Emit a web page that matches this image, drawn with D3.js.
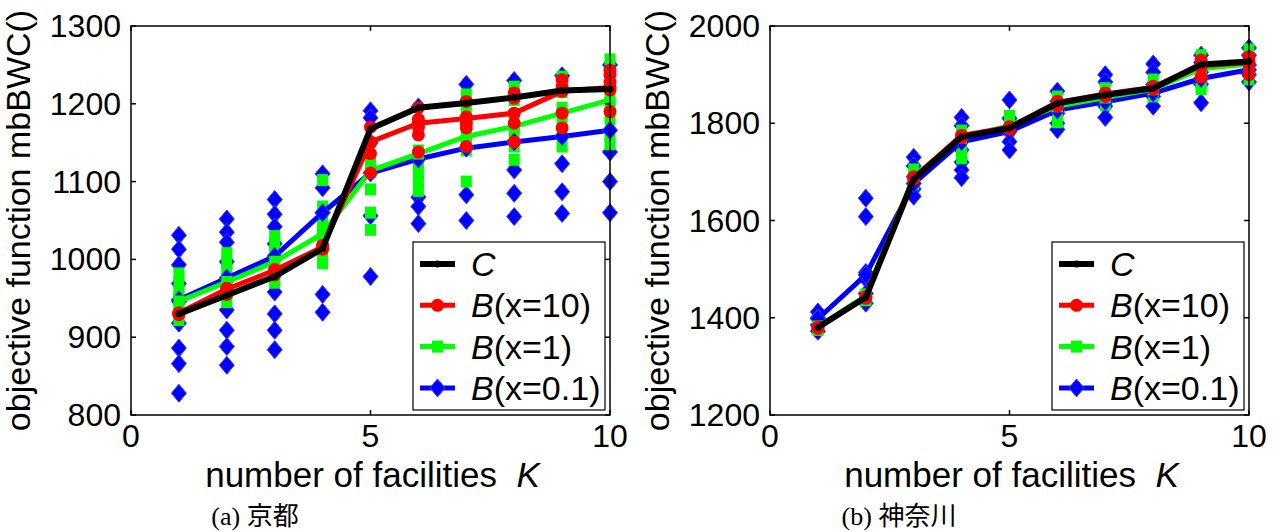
<!DOCTYPE html>
<html>
<head>
<meta charset="utf-8">
<script src="https://cdn.jsdelivr.net/npm/d3@7"></script>
<style>
  body { margin: 0; background: #fff; }
  svg text { font-family: "Liberation Sans", Arial, sans-serif; }
</style>
</head>
<body>
<div class="holder"></div>
<script>
// number of facilities K
var kValues = [1, 2, 3, 4, 5, 6, 7, 8, 9, 10];
var xTicks = [0, 5, 10];

// (a) Kyoto: mean lines
var kyotoC   = [930, 954, 978, 1014, 1168, 1195, 1201, 1208, 1217, 1219];
var kyotoB10 = [931, 962, 986, 1016, 1151, 1175, 1181, 1188, 1216, 1221];
var kyotoB1  = [946, 971, 997, 1033, 1114, 1136, 1158, 1171, 1188, 1205];
var kyotoB01 = [948, 976, 1004, 1060, 1111, 1129, 1143, 1151, 1158, 1166];
// (a) Kyoto: individual runs
var kyotoB10Runs = [
  [930, 931, 929], [955, 963, 960], [980, 987, 984], [1013, 1016, 1018],
  [1170, 1150, 1136, 1111], [1195, 1180, 1170, 1160, 1138],
  [1203, 1183, 1175, 1169, 1145], [1214, 1207, 1175, 1151],
  [1231, 1222, 1188, 1169], [1243, 1237, 1228, 1218, 1190]
];
var kyotoB1Runs = [
  [982, 970, 958, 950, 940, 930, 922], [1008, 995, 985, 975, 965, 955, 945],
  [1030, 1020, 1010, 1000, 990, 980, 970], [1102, 1068, 1051, 1040, 1025, 1010, 995],
  [1128, 1115, 1090, 1060, 1038], [1140, 1125, 1112, 1100, 1088],
  [1212, 1195, 1175, 1158, 1140, 1100], [1222, 1205, 1185, 1165, 1145, 1128],
  [1235, 1215, 1195, 1175, 1160, 1145], [1257, 1240, 1220, 1200, 1180, 1160, 1148]
];
var kyotoB01Runs = [
  [1031, 1013, 993, 969, 946, 918, 886, 866, 828],
  [1052, 1035, 1022, 997, 973, 935, 909, 888, 864],
  [1077, 1058, 1042, 1020, 958, 930, 909, 884],
  [1110, 1092, 1060, 955, 932], [1191, 1182, 1150, 1056, 978],
  [1196, 1080, 1068, 1046], [1225, 1083, 1050], [1230, 1115, 1085, 1055],
  [1236, 1123, 1087, 1059], [1250, 1138, 1100, 1060]
];
var kyotoYTicks = [800, 900, 1000, 1100, 1200, 1300];

// (b) Kanagawa: mean lines
var kanaC   = [1380, 1442, 1685, 1772, 1790, 1841, 1858, 1872, 1921, 1927];
var kanaB10 = [1381, 1443, 1688, 1775, 1792, 1843, 1860, 1874, 1918, 1925];
var kanaB1  = [1382, 1445, 1690, 1770, 1795, 1835, 1853, 1870, 1912, 1922];
var kanaB01 = [1398, 1488, 1676, 1762, 1783, 1827, 1844, 1862, 1892, 1910];
// (b) Kanagawa: individual runs
var kanaB10Runs = [
  [1380, 1378], [1443, 1440], [1690, 1685], [1775, 1770], [1793, 1788],
  [1845, 1835], [1862, 1855], [1876, 1870], [1930, 1915, 1895], [1937, 1920, 1900]
];
var kanaB1Runs = [
  [1382, 1378, 1375], [1448, 1440, 1436], [1705, 1690, 1675], [1785, 1765, 1740, 1728],
  [1815, 1800, 1785], [1855, 1835, 1815, 1802], [1872, 1855, 1838], [1890, 1870, 1855],
  [1940, 1920, 1900, 1880, 1870], [1952, 1930, 1910, 1890]
];
var kanaB01Runs = [
  [1412, 1400, 1385, 1372], [1646, 1608, 1493, 1480, 1450, 1430],
  [1730, 1712, 1690, 1665, 1650], [1812, 1795, 1745, 1720, 1704, 1688],
  [1848, 1810, 1790, 1762, 1745], [1866, 1845, 1820, 1800, 1787],
  [1900, 1885, 1860, 1835, 1812], [1922, 1905, 1880, 1855, 1835],
  [1940, 1925, 1905, 1880, 1842], [1955, 1940, 1920, 1900, 1885]
];
var kanaYTicks = [1200, 1400, 1600, 1800, 2000];

var legendNames = ["C", "B", "B", "B"];
var legendArgs = ["", "(x=10)", "(x=1)", "(x=0.1)"];

var svg = d3.select(".holder").append("svg")
  .attr("width", 1277).attr("height", 532);
svg.append("rect").attr("width", 1277).attr("height", 532).attr("fill", "#fff");

// marker drawing
function drawMarker(g, kind, x, y) {
  if (kind === "diamond") {
    g.append("path")
      .attr("d", "M" + x + "," + (y - 9) + "L" + (x + 7.5) + "," + y + "L" + x + "," + (y + 9) + "L" + (x - 7.5) + "," + y + "Z")
      .attr("fill", "#0000ff").attr("stroke", "#3a3aff").attr("stroke-width", 1);
  } else if (kind === "square") {
    g.append("rect").attr("x", x - 5.5).attr("y", y - 6).attr("width", 11).attr("height", 12)
      .attr("fill", "#00ff00");
  } else if (kind === "circle") {
    g.append("circle").attr("cx", x).attr("cy", y).attr("r", 6.5).attr("fill", "#ff0000");
  } else {
    g.append("circle").attr("cx", x).attr("cy", y).attr("r", 3.5).attr("fill", "#000");
  }
}

function drawPanel(p) {
  var x = d3.scaleLinear().domain([0, 10]).range([p.left, p.right]);
  var y = d3.scaleLinear().domain(p.yDomain).range([p.bottom, p.top]);
  var g = svg.append("g");

  var line = d3.line().x(function(d, i) { return x(kValues[i]); }).y(function(d) { return y(d); });

  function runs(data, kind) {
    data.forEach(function(vals, i) {
      vals.forEach(function(v) { drawMarker(g, kind, x(kValues[i]), y(v)); });
    });
  }
  function meanLine(data, color, kind, w) {
    g.append("path").datum(data).attr("d", line)
      .attr("fill", "none").attr("stroke", color).attr("stroke-width", w)
      .attr("stroke-linejoin", "round");
    data.forEach(function(v, i) { drawMarker(g, kind, x(kValues[i]), y(v)); });
  }

  runs(p.b01Runs, "diamond");
  runs(p.b1Runs, "square");
  meanLine(p.b01, "#0000ff", "diamond", 5);
  meanLine(p.b1, "#00ff00", "square", 5);
  runs(p.b10Runs, "circle");
  meanLine(p.b10, "#ff0000", "circle", 5);
  meanLine(p.c, "#000000", "dot", 6);

  // box
  var axes = svg.append("g").attr("stroke", "#000").attr("stroke-width", 1.5).attr("fill", "none");
  axes.append("rect").attr("x", p.left).attr("y", p.top)
    .attr("width", p.right - p.left).attr("height", p.bottom - p.top);

  // ticks (inward, on all four sides)
  xTicks.forEach(function(t) {
    axes.append("line").attr("x1", x(t)).attr("x2", x(t)).attr("y1", p.bottom).attr("y2", p.bottom - 5);
    axes.append("line").attr("x1", x(t)).attr("x2", x(t)).attr("y1", p.top).attr("y2", p.top + 5);
    svg.append("text").attr("x", x(t)).attr("y", 447).attr("text-anchor", "middle")
      .attr("font-size", 32).text(t);
  });
  p.yTicks.forEach(function(t) {
    axes.append("line").attr("x1", p.left).attr("x2", p.left + 5).attr("y1", y(t)).attr("y2", y(t));
    axes.append("line").attr("x1", p.right).attr("x2", p.right - 5).attr("y1", y(t)).attr("y2", y(t));
    svg.append("text").attr("x", p.left - 10).attr("y", y(t) + 11).attr("text-anchor", "end")
      .attr("font-size", 32).text(t);
  });

  // axis labels
  var xl = svg.append("text").attr("x", (p.left + p.right) / 2 + 2).attr("y", 487)
    .attr("text-anchor", "middle").attr("font-size", 35);
  xl.append("tspan").text("number of facilities\u00a0\u00a0");
  xl.append("tspan").attr("font-style", "italic").text("K");

  svg.append("text")
    .attr("transform", "translate(" + p.ylabelX + "," + ((p.top + p.bottom) / 2) + ") rotate(-90)")
    .attr("text-anchor", "middle").attr("font-size", 34)
    .text("objective function mbBWC()");

  // caption
  svg.append("text").attr("x", p.captionX).attr("y", 525).attr("text-anchor", "middle")
    .attr("font-size", 26)
    .style("font-family", '"Liberation Serif", "DejaVu Serif", "Noto Sans CJK JP", serif')
    .text(p.caption);

  // legend
  var lg = svg.append("g");
  lg.append("rect").attr("x", p.legX).attr("y", 242).attr("width", 192).attr("height", 168)
    .attr("fill", "#fff").attr("stroke", "#000").attr("stroke-width", 1.2);
  var entries = [["#000000", "dot"], ["#ff0000", "circle"], ["#00ff00", "square"], ["#0000ff", "diamond"]];
  entries.forEach(function(e, i) {
    var cy = 264 + i * 41.3;
    var sx = p.legX + 7;
    lg.append("line").attr("x1", sx).attr("x2", sx + 35).attr("y1", cy).attr("y2", cy)
      .attr("stroke", e[0]).attr("stroke-width", i === 0 ? 6 : 5);
    drawMarker(lg, e[1], sx + 17.5, cy);
    var t = lg.append("text").attr("x", p.legX + 58).attr("y", cy + 12).attr("font-size", 34);
    t.append("tspan").attr("font-style", "italic").text(legendNames[i]);
    if (legendArgs[i]) t.append("tspan").text(legendArgs[i]);
  });
}

drawPanel({
  left: 131, right: 610, top: 26, bottom: 415,
  yDomain: [800, 1300], yTicks: kyotoYTicks,
  c: kyotoC, b10: kyotoB10, b1: kyotoB1, b01: kyotoB01,
  b10Runs: kyotoB10Runs, b1Runs: kyotoB1Runs, b01Runs: kyotoB01Runs,
  ylabelX: 30, captionX: 255, caption: "(a) 京都", legX: 413
});
drawPanel({
  left: 770, right: 1249, top: 26, bottom: 415,
  yDomain: [1200, 2000], yTicks: kanaYTicks,
  c: kanaC, b10: kanaB10, b1: kanaB1, b01: kanaB01,
  b10Runs: kanaB10Runs, b1Runs: kanaB1Runs, b01Runs: kanaB01Runs,
  ylabelX: 669, captionX: 899, caption: "(b) 神奈川", legX: 1052
});
</script>
</body>
</html>
